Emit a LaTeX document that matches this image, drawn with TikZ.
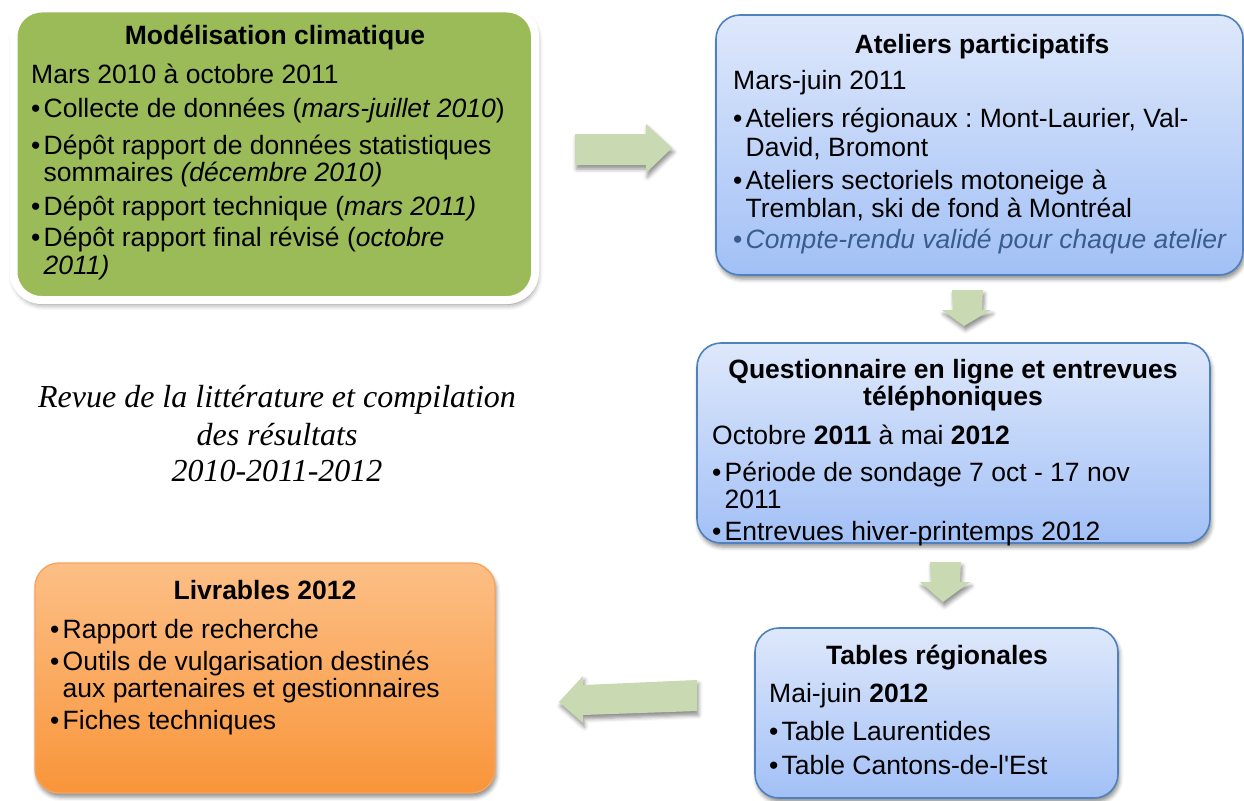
\documentclass[tikz,border=0pt]{standalone}
\usepackage{fontspec}
\setmainfont{Liberation Sans}
\newfontfamily\revuefont{Liberation Serif}
\usetikzlibrary{shadows.blur}
\frenchspacing

\definecolor{olivefill}{HTML}{9BBB59}
\definecolor{bluetop}{HTML}{DEE8FB}
\definecolor{bluebot}{HTML}{A2C0F6}
\definecolor{blueline}{HTML}{4F81BD}
\definecolor{orangetop}{HTML}{FCBF86}
\definecolor{orangebot}{HTML}{F9953A}
\definecolor{orangeline}{HTML}{F6A55E}
\definecolor{arrowfill}{HTML}{C9D9B1}
\definecolor{crblue}{HTML}{385D8A}

\newcommand{\bu}{\makebox[12.5pt][l]{\textbullet}}

\tikzset{
  softshadow/.style={blur shadow={shadow xshift=1.5pt, shadow yshift=-4pt,
      shadow blur radius=4pt, shadow opacity=45}},
  greenbox/.style={draw=white, line width=8pt, fill=olivefill,
      rounded corners=28pt, inner sep=0pt,
      blur shadow={shadow xshift=1.5pt, shadow yshift=-4pt,
      shadow blur radius=6pt, shadow opacity=55}},
  bluebox/.style={draw=blueline, line width=1.6pt, top color=bluetop,
      bottom color=bluebot, rounded corners=24pt, inner sep=0pt, softshadow},
  orangebox/.style={draw=orangeline, line width=1.4pt, top color=orangetop,
      bottom color=orangebot, rounded corners=24pt, inner sep=0pt, softshadow},
  blockarrow/.style={fill=arrowfill, draw=none, softshadow},
  ln/.style={anchor=base west, inner sep=0pt, font=\fontsize{26.5}{31}\selectfont},
  ttl/.style={anchor=base, inner sep=0pt, font=\fontsize{26.5}{31}\selectfont\bfseries},
  revue/.style={anchor=base, inner sep=0pt, font=\revuefont\itshape\fontsize{32}{37}\selectfont}
}

\begin{document}
\begin{tikzpicture}[x=1pt, y=-1pt]
\useasboundingbox (0,0) rectangle (1244,800);

% boxes
\node[greenbox, minimum width=521.5pt, minimum height=291.5pt] (model) at (274.25,154.25) {};
\node[bluebox, minimum width=527pt, minimum height=260pt] (ateliers) at (979.5,145) {};
\node[bluebox, minimum width=513pt, minimum height=200pt] (quest) at (953.5,443) {};
\node[bluebox, minimum width=363pt, minimum height=170pt] (tables) at (936.5,713) {};
\node[orangebox, minimum width=460pt, minimum height=230pt] (livr) at (265,678) {};

% block arrows between the stages
\draw[blockarrow] (575,134) -- (646,134) -- (646,124) -- (672,148) -- (646,173)
  -- (646,165) -- (575,165) -- cycle;
\draw[blockarrow] (952,290) -- (983,290) -- (982,310) -- (991,310) -- (964,326)
  -- (942,310) -- (953,310) -- cycle;
\draw[blockarrow] (930,562) -- (961,562) -- (960,582) -- (970,582) -- (943,602)
  -- (920,582) -- (931,582) -- cycle;
\draw[blockarrow] (697,680) -- (697,711) -- (583,715) -- (583,723) -- (559,702)
  -- (583,676) -- (583,685) -- cycle;

% Modélisation climatique
\node[ttl] (m0) at (275,45) {Modélisation climatique};
\node[ln] (m1) at (31,83) {Mars 2010 à octobre 2011};
\node[ln] (m2) at (31,117) {\bu Collecte de données (\textit{mars-juillet 2010})};
\node[ln] (m3) at (31,154) {\bu Dépôt rapport de données statistiques};
\node[ln] (m4) at (43.5,181) {sommaires \textit{(décembre 2010)}};
\node[ln] (m5) at (31,215) {\bu Dépôt rapport technique (\textit{mars 2011)}};
\node[ln] (m6) at (31,246) {\bu Dépôt rapport final révisé (\textit{octobre}};
\node[ln] (m7) at (43.5,274) {\textit{2011)}};

% Ateliers participatifs
\node[ttl] (a0) at (982,53) {Ateliers participatifs};
\node[ln] (a1) at (733,89) {Mars-juin 2011};
\node[ln] (a2) at (733,127) {\bu Ateliers régionaux : Mont-Laurier, Val-};
\node[ln] (a3) at (745.5,156) {David, Bromont};
\node[ln] (a4) at (733,189) {\bu Ateliers sectoriels motoneige à};
\node[ln] (a5) at (745.5,217) {Tremblan, ski de fond à Montréal};
\node[ln, text=crblue] (a6) at (733,248) {\bu\itshape Compte-rendu validé pour chaque atelier};

% Questionnaire
\node[ttl] (q0) at (953,378) {Questionnaire en ligne et entrevues};
\node[ttl] (q1) at (953,405) {téléphoniques};
\node[ln] (q2) at (712,444) {Octobre \textbf{2011} à mai \textbf{2012}};
\node[ln] (q3) at (712,481) {\bu Période de sondage 7 oct - 17 nov};
\node[ln] (q4) at (724.5,508) {2011};
\node[ln] (q5) at (712,540) {\bu Entrevues hiver-printemps 2012};

% Tables régionales
\node[ttl] (t0) at (937,664) {Tables régionales};
\node[ln] (t1) at (769,702) {Mai-juin \textbf{2012}};
\node[ln] (t2) at (769,740) {\bu Table Laurentides};
\node[ln] (t3) at (769,774) {\bu Table Cantons-de-l\textquotesingle Est};

% Livrables
\node[ttl] (l0) at (265,599) {Livrables 2012};
\node[ln] (l1) at (50,638) {\bu Rapport de recherche};
\node[ln] (l2) at (50,670) {\bu Outils de vulgarisation destinés};
\node[ln] (l3) at (62.5,697) {aux partenaires et gestionnaires};
\node[ln] (l4) at (50,729) {\bu Fiches techniques};

% literature review note
\node[revue] (r0) at (277,407) {Revue de la littérature et compilation};
\node[revue] (r1) at (277,445) {des résultats};
\node[revue] (r2) at (277,481) {2010-2011-2012};
\end{tikzpicture}
\end{document}
